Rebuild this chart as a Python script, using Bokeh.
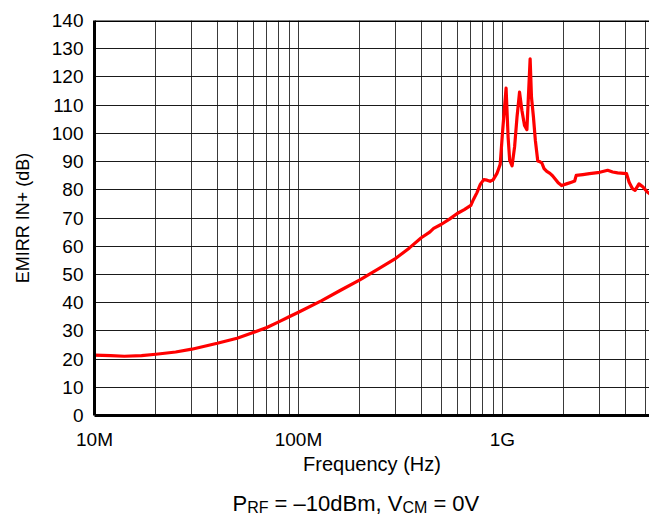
from bokeh.plotting import figure
from bokeh.models import Range1d, FixedTicker, Span, Label, ColumnDataSource
from bokeh.layouts import column
from bokeh.embed import file_html
from bokeh.resources import INLINE

# ---- data ----
freq_hz = [
    10e6, 12e6, 14e6, 17e6, 20e6, 25e6, 30e6, 40e6, 50e6, 60e6, 70e6, 80e6, 90e6,
    100e6, 130e6, 160e6, 200e6, 250e6, 300e6, 350e6, 400e6, 440e6, 460e6, 500e6,
    550e6, 600e6, 650e6, 700e6, 720e6, 750e6, 780e6, 810e6, 840e6, 870e6, 900e6,
    940e6, 975e6, 1.0e9, 1.042e9, 1.066e9, 1.085e9, 1.115e9, 1.147e9, 1.179e9,
    1.213e9, 1.246e9, 1.283e9, 1.318e9, 1.367e9, 1.388e9, 1.419e9, 1.45e9, 1.49e9,
    1.53e9, 1.56e9, 1.60e9, 1.65e9, 1.71e9, 1.76e9, 1.83e9, 1.876e9, 1.95e9, 2.0e9,
    2.06e9, 2.18e9, 2.26e9, 2.30e9, 2.48e9, 2.67e9, 3.0e9, 3.28e9, 3.47e9, 3.67e9,
    4.06e9, 4.18e9, 4.34e9, 4.47e9, 4.67e9, 4.89e9, 5.13e9, 5.3e9,
]
emirr_db = [
    21.4, 21.2, 21.0, 21.2, 21.7, 22.5, 23.5, 25.6, 27.4, 29.4, 31.2, 33.2, 35.0,
    36.6, 40.7, 44.3, 48.1, 52.2, 55.7, 59.4, 63.0, 65.0, 66.3, 67.7,
    69.6, 71.6, 73.0, 74.5, 76.5, 79.0, 82.0, 83.6, 83.4, 83.0, 83.5,
    85.8, 89.0, 100.0, 116.0, 98.7, 90.5, 88.5, 95.2, 105.8,
    114.6, 108.1, 102.8, 101.3, 126.4, 112.8, 105.8, 97.5, 90.2,
    89.9, 89.5, 87.5, 86.5, 85.8, 85.0, 83.5, 82.5, 81.5, 81.8,
    82.1, 82.7, 83.1, 85.1, 85.4, 85.7, 86.2, 86.9, 86.3, 86.0,
    85.7, 82.7, 80.4, 79.8, 82.1, 81.0, 79.2, 78.5,
]

x_major_ticks = [10_000_000, 100_000_000, 1_000_000_000]
x_tick_labels = ["10M", "100M", "1G"]
x_minor_ticks = [20e6, 30e6, 40e6, 50e6, 60e6, 70e6, 80e6, 90e6,
                 200e6, 300e6, 400e6, 500e6, 600e6, 700e6, 800e6, 900e6,
                 2e9, 3e9, 4e9, 5e9]
y_ticks = [0, 10, 20, 30, 40, 50, 60, 70, 80, 90, 100, 110, 120, 130, 140]

x_title = "Frequency (Hz)"
y_title = "EMIRR IN+ (dB)"
# subtitle pieces: (text, is_subscript)
subtitle_parts = [("P", False), ("RF", True), ("= \u201310dBm, V", False), ("CM", True), ("= 0V", False)]

FONT = "Liberation Sans"
W = 649
H_MAIN = 480
H_SUB = 39
LEFT = 94

src = ColumnDataSource(data=dict(f=freq_hz, v=emirr_db))

p = figure(width=W, height=H_MAIN, x_axis_type="log",
           x_range=Range1d(1e7, 5.26e9), y_range=Range1d(0, 140),
           output_backend="svg", toolbar_location=None, title_location=None,
           min_border_left=LEFT, min_border_right=0, min_border_top=20, min_border_bottom=65)
p.background_fill_color = "white"
p.border_fill_color = "white"
p.outline_line_color = None

# axes
p.xaxis.ticker = FixedTicker(ticks=x_major_ticks, minor_ticks=x_minor_ticks)
p.xaxis.major_label_overrides = dict(zip(x_major_ticks, x_tick_labels))
p.yaxis.ticker = FixedTicker(ticks=y_ticks)
for ax in (p.xaxis, p.yaxis):
    ax.axis_line_width = 3
    ax.axis_line_color = "black"
    ax.major_tick_line_color = None
    ax.minor_tick_line_color = None
    ax.major_tick_out = 0
    ax.major_tick_in = 0
    ax.major_label_text_font = FONT
    ax.major_label_text_font_size = "19px"
    ax.major_label_text_color = "black"
    ax.axis_label_text_font = FONT
    ax.axis_label_text_font_style = "normal"
    ax.axis_label_text_color = "black"
p.xaxis.major_label_standoff = 9
p.yaxis.major_label_standoff = 11
p.xaxis.axis_label = x_title
p.yaxis.axis_label = y_title
p.xaxis.axis_label_text_font_size = "20px"
p.yaxis.axis_label_text_font_size = "18px"
p.xaxis.axis_label_standoff = 0
p.yaxis.axis_label_standoff = 16

# grid
p.xgrid.grid_line_color = "#3a3a3a"
p.xgrid.grid_line_width = 1
p.xgrid.minor_grid_line_color = "#3a3a3a"
p.xgrid.minor_grid_line_width = 1
p.ygrid.grid_line_color = "#1a1a1a"
p.ygrid.grid_line_width = 1

# top frame line
p.add_layout(Span(location=140, dimension="width", line_color="black", line_width=3))

p.line("f", "v", source=src, line_color="#ff0000", line_width=3.2, line_join="round")

# ---- subtitle strip (separate figure so text is not clipped) ----
s = figure(width=W, height=H_SUB, x_range=Range1d(LEFT, W),
           y_range=Range1d(H_MAIN + H_SUB, H_MAIN),
           output_backend="svg", toolbar_location=None, title_location=None,
           x_axis_location=None, y_axis_location=None,
           min_border=0, min_border_left=LEFT, min_border_right=0,
           min_border_top=0, min_border_bottom=0)
s.grid.visible = False
s.outline_line_color = None
s.background_fill_color = "white"
s.border_fill_color = "white"

main_size, sub_size = 22, 16
widths = {"P": 0.667, "RF": 1.333, "= \u201310dBm, V": 6.087 - 0.278, "CM": 1.555, "= 0V": 2.363 - 0.278}
space = 0.278 * main_size
x = 232.0
baseline = 503
for txt, sub in subtitle_parts:
    if txt.startswith("="):
        x += space
    size = sub_size if sub else main_size
    s.add_layout(Label(x=x, y=baseline + (4 if sub else 0),
                       text=txt, text_font=FONT, text_font_size=f"{size}px",
                       text_color="black", text_baseline="alphabetic", text_align="left"))
    x += widths[txt] * size

open("out.html", "w").write(file_html(column(p, s, spacing=0), INLINE))
